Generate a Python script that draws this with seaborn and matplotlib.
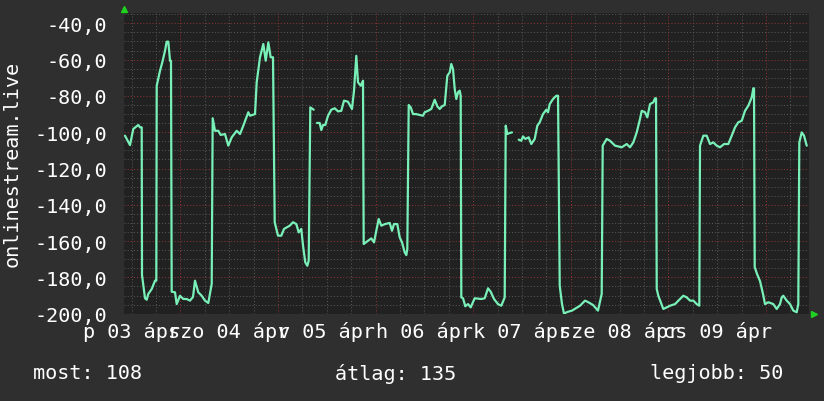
import numpy as np
import pandas as pd
import matplotlib
matplotlib.use("Agg")
import matplotlib.pyplot as plt
import seaborn as sns

# ── Data ──────────────────────────────────────────────────────────────────────
# hours since 03 ápr 00:00 ; NaN marks a gap in the series
hours = [
    10.40, 11.63, 12.44, 13.67, 14.09, 14.51, 14.58, 15.32, 15.74, 16.13,
    16.97, 17.78, 18.10, 18.20, 19.01, 19.57, 20.24, 20.65, 21.05, 21.47,
    21.71, 21.88, 22.70, 23.11, 23.92, 24.74, 25.57, 26.38, 27.12, 27.61,
    28.42, 29.26, 30.07, 30.88, 31.72, 31.96, 32.53, 33.34, 33.93, 34.99,
    35.80, 36.64, 37.87, 38.68, 39.49, 40.72, 41.14, 42.37, 42.78, 43.59,
    44.41, 45.00, 45.64, 46.22, 46.79, 47.21, 48.02, 48.83, 49.50, 50.90,
    51.71, 52.52, 53.11, 53.75, 54.17, 54.73, 55.23, 55.57, 55.96, 56.80,
    57.20,
    57.61, 58.27, 58.67, 59.09, 59.65, 60.32, 61.13, 61.96, 62.77, 63.58,
    64.25, 65.23, 66.21, 66.71, 67.27, 67.69, 68.35, 68.92, 69.09, 70.15,
    70.96, 71.63, 72.19, 72.78, 73.42, 74.33, 75.49, 76.05, 76.54, 77.35,
    77.94, 78.51, 79.17, 79.57, 79.81, 80.16, 80.65, 81.21, 82.02, 82.86,
    83.67, 84.09, 84.90, 85.71, 86.55, 87.19, 87.78, 88.35, 89.01, 89.65,
    90.24, 90.63, 91.05, 91.47, 91.86, 92.28, 92.70, 92.94, 93.09, 93.51,
    94.07, 94.74, 95.40, 96.38, 98.01, 98.84, 99.66, 100.32, 101.13, 102.11,
    102.93, 103.76, 104.01, 104.40, 104.99, 105.56,
    106.40,
    107.20, 107.84, 108.26, 108.83, 109.66, 110.30, 111.14, 111.78, 112.37,
    113.18, 113.99, 114.41, 114.83, 115.64, 116.45, 116.87, 117.29, 117.85,
    118.35, 119.08, 120.31, 122.28, 123.51, 124.25, 125.47, 126.70, 127.61,
    127.86, 128.84, 129.65, 130.89, 132.53, 133.76, 134.57, 135.38, 136.22,
    137.03, 137.45, 138.26, 138.83, 139.49, 140.30, 140.72, 140.97, 141.14,
    141.53, 142.76, 143.60, 144.41, 145.64, 146.87, 147.68, 148.51, 149.33,
    150.14, 150.97, 151.61, 151.78, 152.60, 153.43, 154.24, 155.05, 155.89,
    156.70, 157.69, 158.74, 159.58, 160.39, 161.20, 162.04, 162.85, 163.66,
    164.50, 164.89, 165.06, 165.23, 165.80, 166.53, 167.27, 167.76, 168.58,
    169.81, 170.64, 171.45, 171.87, 172.26, 173.10, 173.91, 174.73, 175.56,
    175.95, 176.20, 176.79, 177.36, 178.02,
]
values = [
    -101.9, -107.1, -98.2, -96.0, -97.3, -97.3, -178.7, -191.5, -192.3, -189.1,
    -186.4, -181.8, -181.8, -74.4, -66.1, -61.5, -55.1, -50.1, -50.1, -60.6,
    -60.6, -187.9, -188.2, -194.7, -190.1, -191.9, -191.9, -192.8, -190.8, -181.8,
    -188.2, -190.1, -192.8, -194.1, -183.6, -92.3, -99.2, -99.2, -101.5, -101.0,
    -107.4, -102.8, -99.2, -101.0, -96.4, -89.0, -90.9, -90.0, -72.5, -58.7,
    -51.4, -60.6, -50.5, -58.7, -58.7, -149.6, -157.0, -157.0, -153.3, -151.5,
    -149.6, -150.6, -155.2, -153.3, -162.5, -171.7, -173.6, -170.8, -86.3, -87.6,
    np.nan,
    -94.9, -94.9, -98.8, -96.0, -96.0, -90.9, -87.6, -86.8, -88.5, -88.2,
    -82.6, -83.2, -87.2, -77.1, -57.9, -72.5, -74.4, -71.6, -161.6, -159.8,
    -158.5, -160.7, -154.3, -147.8, -151.5, -150.6, -150.0, -154.3, -150.6, -150.6,
    -157.9, -160.7, -166.2, -167.7, -164.4, -85.0, -86.3, -90.0, -90.0, -90.5,
    -90.9, -89.0, -88.2, -87.2, -82.1, -85.7, -87.2, -85.7, -85.0, -68.9,
    -67.0, -62.4, -65.2, -76.2, -81.7, -78.0, -77.1, -79.9, -191.0, -191.5,
    -195.9, -194.7, -196.5, -191.5, -191.9, -191.5, -186.0, -187.9, -191.9, -194.7,
    -195.6, -191.0, -96.4, -101.0, -100.4, -100.1,
    np.nan,
    -104.1, -104.7, -102.3, -103.7, -102.8, -106.5, -103.7, -96.4, -94.5,
    -90.0, -87.6, -89.0, -84.5, -81.7, -79.9, -79.9, -184.6, -194.7,
    -200.0, -199.1, -198.3, -195.6, -192.8, -193.6, -195.2, -198.3, -189.1,
    -107.4, -103.7, -104.7, -107.4, -108.3, -106.5, -108.3, -105.6, -100.1,
    -92.7, -88.2, -89.0, -91.8, -84.5, -83.5, -81.3, -81.3, -186.4,
    -190.1, -197.4, -196.5, -195.6, -194.7, -191.9, -190.1, -191.0, -192.8,
    -192.8, -194.7, -195.6, -107.4, -101.9, -101.9, -106.5, -105.6, -107.4,
    -108.3, -106.5, -106.5, -101.9, -97.3, -94.5, -93.7, -88.2, -85.4,
    -80.8, -75.8, -75.8, -174.3, -178.1, -182.0, -189.1, -194.7, -193.7,
    -194.7, -197.4, -194.7, -191.0, -190.1, -192.8, -194.7, -198.3, -199.2,
    -194.7, -105.6, -100.1, -101.9, -107.4,
]

day_labels = ["p 03 ápr", "szo 04 ápr", "v 05 ápr", "h 06 ápr",
              "k 07 ápr", "sze 08 ápr", "cs 09 ápr"]
y_ticks = [-40, -60, -80, -100, -120, -140, -160, -180, -200]

stat_now = 108
stat_avg = 135
stat_best = 50

# ── Styling ───────────────────────────────────────────────────────────────────
BG_OUTER = "#2f2f2f"
BG_PLOT = "#212121"
LINE_C = "#78f0b8"
GRID_MINOR = "#555555"
GRID_MAJOR = "#8a3434"
ARROW_C = "#1fd21f"
FS = 14.5

sns.set_theme(style="dark")
plt.rcParams["font.family"] = ["DejaVu Sans Mono", "DejaVu Sans"]

df = pd.DataFrame({"hour": hours, "value": values})
df["seg"] = df["value"].isna().cumsum()
df = df.dropna()

fig = plt.figure(figsize=(8.24, 4.02), dpi=100, facecolor=BG_OUTER)
ax = fig.add_axes([124 / 824, (402 - 314.7) / 402, 685 / 824, 300.7 / 402])
ax.set_facecolor(BG_PLOT)

x_lo, x_hi = 10.155, 178.58
y_lo, y_hi = -200, -34.3

# grid
for h in np.arange(12, 180, 6):
    if h % 24:
        ax.axvline(h, color=GRID_MINOR, lw=0.75, ls=(0, (1, 2)), zorder=1)
for v in np.arange(-195, -34, 5):
    if v % 20:
        ax.axhline(v, color=GRID_MINOR, lw=0.75, ls=(0, (1, 2)), zorder=1)
for h in np.arange(24, 180, 24):
    ax.axvline(h, color=GRID_MAJOR, lw=0.75, ls=(0, (1, 2)), zorder=1.5)
for v in y_ticks:
    ax.axhline(v, color=GRID_MAJOR, lw=0.75, ls=(0, (1, 2)), zorder=1.5)

sns.lineplot(data=df, x="hour", y="value", units="seg", estimator=None,
             color=LINE_C, linewidth=1.6, ax=ax, zorder=3, sort=False)

ax.set_xlim(x_lo, x_hi)
ax.set_ylim(y_lo, y_hi)

ax.set_xticks([12 + 24 * i for i in range(len(day_labels))])
ax.set_xticklabels(day_labels)
ax.set_yticks(y_ticks)
ax.set_yticklabels([f"{v},0" for v in y_ticks])
ax.tick_params(axis="x", length=0, pad=5.5, labelsize=FS, colors="white")
ax.tick_params(axis="y", length=0, pad=12, labelsize=FS, colors="white")
ax.set_xlabel("")
ax.set_ylabel("")
for s in ax.spines.values():
    s.set_visible(False)
ax.grid(False)

# arrows at axis ends
ax.plot([0], [1.012], marker="^", ms=5, color=ARROW_C, transform=ax.transAxes,
        clip_on=False, zorder=5)
ax.plot([1.007], [0], marker=">", ms=5, color=ARROW_C, transform=ax.transAxes,
        clip_on=False, zorder=5)

fig.text(12 / 824, 1 - 164 / 402, "onlinestream.live", rotation=90,
         ha="center", va="center", color="white", fontsize=FS)

fig.text(33 / 824, 1 - 374 / 402, f"most: {stat_now}", ha="left",
         va="center", color="white", fontsize=FS)
fig.text(335 / 824, 1 - 374 / 402, f"átlag: {stat_avg}", ha="left",
         va="center", color="white", fontsize=FS)
fig.text(650 / 824, 1 - 374 / 402, f"legjobb: {stat_best}", ha="left",
         va="center", color="white", fontsize=FS)

fig.savefig("out.png", dpi=100, facecolor=BG_OUTER)
